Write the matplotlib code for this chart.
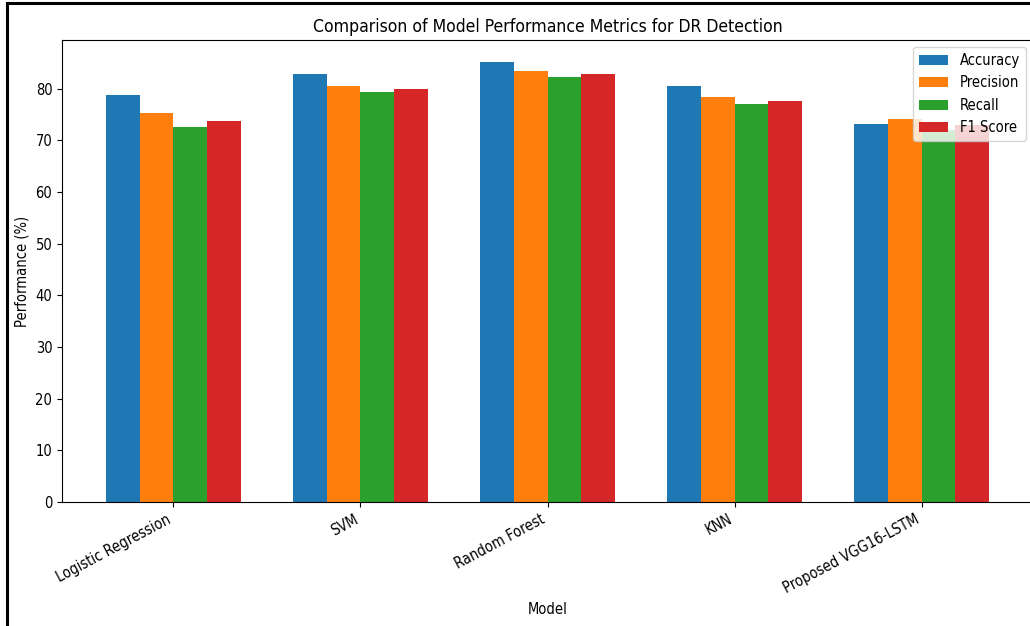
import matplotlib
matplotlib.use('Agg')
import matplotlib.pyplot as plt
from matplotlib.lines import Line2D
import numpy as np

models = ['Logistic Regression', 'SVM', 'Random Forest', 'KNN', 'Proposed VGG16-LSTM']
accuracy = [78.8, 82.8, 85.2, 80.6, 73.2]
precision = [75.3, 80.6, 83.4, 78.5, 74.1]
recall = [72.6, 79.4, 82.3, 77.1, 72.0]
f1_score = [73.8, 79.9, 82.8, 77.7, 73.0]

metrics = {'Accuracy': accuracy, 'Precision': precision, 'Recall': recall, 'F1 Score': f1_score}

plt.rcParams['font.stretch'] = 'condensed'

fig = plt.figure(figsize=(10.3, 6.26), dpi=100)
ax = fig.add_axes([62 / 1030, 124 / 626, 971 / 1030, 462 / 626])

x = np.arange(len(models))
width = 0.18
for i, (name, vals) in enumerate(metrics.items()):
    ax.bar(x + (i - 1.5) * width, vals, width, label=name)

ax.set_xticks(x)
ax.set_xticklabels(models, rotation=28, ha='right', fontsize=10.5)
ax.tick_params(axis='y', labelsize=10.5)
ax.set_xlabel('Model', fontsize=10.5)
ax.set_ylabel('Performance (%)', fontsize=10.5)
ax.set_title('Comparison of Model Performance Metrics for DR Detection', fontsize=12.6)
ax.legend(loc='upper right', fontsize=10.5)

# screenshot frame on the left and top
fig.add_artist(Line2D([7 / 1030, 7 / 1030], [0, 1 - 3 / 626], color='black', lw=2.2))
fig.add_artist(Line2D([7 / 1030, 1], [1 - 3 / 626, 1 - 3 / 626], color='black', lw=2.2))

fig.savefig('out.png', dpi=100)
